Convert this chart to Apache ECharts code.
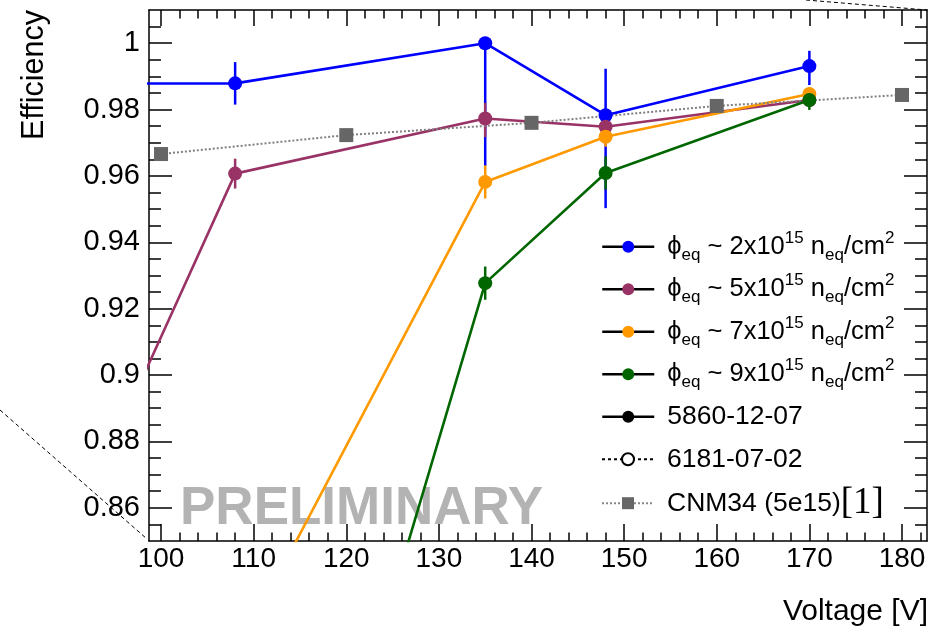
<!DOCTYPE html>
<html>
<head>
<meta charset="utf-8">
<script src="https://cdn.jsdelivr.net/npm/echarts@6/dist/echarts.min.js"></script>
<style>html,body{margin:0;padding:0;background:#fff}#c{width:944px;height:632px}</style>
</head>
<body>
<div id="c"></div>
<script>
// ---------- data ----------
const fluenceLabels = ['2', '5', '7', '9'];
const colors = ['#0000ff', '#993366', '#ff9900', '#006600'];

const voltBlue   = [90, 108, 135, 148, 170];
const effBlue    = [0.9878, 0.9879, 1.000, 0.9783, 0.9931];
const errLoBlue  = [0, 0.0064, 0.037, 0.028, 0.0057];
const errHiBlue  = [0, 0.0064, 0, 0.014, 0.0046];

const voltPurple  = [90, 108, 135, 148, 170];
const effPurple   = [0.850, 0.9607, 0.9773, 0.9748, 0.9829];
const errLoPurple = [0, 0.0045, 0.0056, 0.002, 0.002];
const errHiPurple = [0, 0.0045, 0.0047, 0.002, 0.002];

const voltOrange  = [108, 135, 148, 170];
const effOrange   = [0.815, 0.9582, 0.9718, 0.9847];
const errLoOrange = [0, 0.005, 0.003, 0.002];
const errHiOrange = [0, 0.005, 0.003, 0.002];

const voltGreen  = [108, 135, 148, 170];
const effGreen   = [0.674, 0.9277, 0.9609, 0.9829];
const errLoGreen = [0, 0.005, 0.005, 0.003];
const errHiGreen = [0, 0.005, 0.005, 0.003];

const voltCNM = [100, 120, 140, 160, 180];
const effCNM  = [0.9666, 0.9723, 0.9760, 0.9811, 0.9844];

const xTickLabels = [100, 110, 120, 130, 140, 150, 160, 170, 180];
const yTickLabels = [0.86, 0.88, 0.90, 0.92, 0.94, 0.96, 0.98, 1.00];

const xMin = 98.7, xMax = 182.7, yMin = 0.85, yMax = 1.01;

// minor tick positions (every 2 V and every 0.005)
const xMinor = [];
for (let v = 100; v <= 182; v += 2) xMinor.push(v);
const yMinor = [];
for (let k = 171; k <= 201; k++) yMinor.push(Math.round(k * 5) / 1000);

const FONT = 'Liberation Sans, Arial, Helvetica, sans-serif';

const groups = [
  {v: voltBlue, e: effBlue, lo: errLoBlue, hi: errHiBlue},
  {v: voltPurple, e: effPurple, lo: errLoPurple, hi: errHiPurple},
  {v: voltOrange, e: effOrange, lo: errLoOrange, hi: errHiOrange},
  {v: voltGreen, e: effGreen, lo: errLoGreen, hi: errHiGreen}
];
const groupNames = fluenceLabels.map(f => 'phi' + f);

const series = [];
groups.forEach((g, i) => {
  const col = colors[i];
  series.push({
    name: 'err' + i,
    type: 'custom',
    clip: true,
    data: g.v.map((v, j) => [v, g.e[j], g.lo[j], g.hi[j]]),
    encode: {x: 0, y: 1},
    renderItem: (params, api) => {
      const x = api.value(0), y = api.value(1), lo = api.value(2), hi = api.value(3);
      if (!(lo > 0 || hi > 0)) return null;
      const p1 = api.coord([x, y - lo]);
      const p2 = api.coord([x, y + hi]);
      return {type: 'line', shape: {x1: p1[0], y1: p1[1], x2: p2[0], y2: p2[1]},
              style: {stroke: col, lineWidth: 2.5}};
    },
    silent: true
  });
  series.push({
    name: groupNames[i],
    type: 'line',
    data: g.v.map((v, j) => [v, g.e[j]]),
    symbol: 'circle',
    symbolSize: 14,
    showAllSymbol: true,
    clip: true,
    itemStyle: {color: col},
    lineStyle: {color: col, width: 2.6},
    emphasis: {disabled: true},
    silent: true
  });
});
series.push({
  name: 'CNM34 (5e15)',
  type: 'line',
  data: voltCNM.map((v, j) => [v, effCNM[j]]),
  symbol: 'rect',
  symbolSize: 14,
  itemStyle: {color: '#666666'},
  lineStyle: {color: '#808080', width: 2, type: [2, 2]},
  emphasis: {disabled: true},
  silent: true
});
series.push({name: '5860-12-07', type: 'line', data: [], symbol: 'circle', itemStyle: {color: '#000'}, lineStyle: {color: '#000'}});
series.push({name: '6181-07-02', type: 'line', data: [], symbol: 'emptyCircle', itemStyle: {color: '#000'}, lineStyle: {color: '#000', type: [3, 3]}});

const phiText = f => '{m|ϕ}{sub|eq}{m| ~ ' + f + 'x10}{sup|15}{m| n}{sub|eq}{m|/cm}{sup|2}';
const legendText = {};
fluenceLabels.forEach((f, i) => { legendText[groupNames[i]] = phiText(f); });
legendText['5860-12-07'] = '{t|5860-12-07}';
legendText['6181-07-02'] = '{t|6181-07-02}';
legendText['CNM34 (5e15)'] = '{t|CNM34 (5e15)}{ref|[1]}';

const legendData = groupNames.map((n, i) => ({
  name: n, itemStyle: {color: colors[i]}, lineStyle: {color: '#000', width: 2.5, type: 'solid'}
}));
legendData.push({name: '5860-12-07', itemStyle: {color: '#000'}, lineStyle: {color: '#000', width: 2.5, type: 'solid'}});
legendData.push({name: '6181-07-02', itemStyle: {color: '#000'}, lineStyle: {color: '#000', width: 2, type: [3, 3]}});
legendData.push({name: 'CNM34 (5e15)', itemStyle: {color: '#666666'}, lineStyle: {color: '#888', width: 2, type: [2, 2]}});

const richStyles = {
  m: {fontFamily: FONT, fontSize: 25.5, lineHeight: 34, verticalAlign: 'middle', color: '#000'},
  sub: {fontFamily: FONT, fontSize: 17, lineHeight: 10, verticalAlign: 'bottom', color: '#000'},
  sup: {fontFamily: FONT, fontSize: 17, lineHeight: 30, verticalAlign: 'top', color: '#000'},
  t: {fontFamily: FONT, fontSize: 26.5, lineHeight: 34, verticalAlign: 'middle', color: '#000'},
  ref: {fontFamily: 'Liberation Serif, Times New Roman, serif', fontSize: 37, lineHeight: 34, verticalAlign: 'middle', color: '#000'}
};
const rowCenters = [246.7, 289.2, 331.7, 374.2, 416.7, 459.2, 501.7];
const legends = legendData.map((d, i) => ({
  orient: 'vertical', left: 601, top: rowCenters[i] - 17, padding: 0,
  itemWidth: 52, itemHeight: 15, itemGap: 0,
  selectedMode: false,
  data: [d],
  formatter: name => legendText[name],
  textStyle: {fontFamily: FONT, fontSize: 26, lineHeight: 34, color: '#000', padding: [0, 0, 0, 8], rich: richStyles}
}));

function xAxisDef(pos, ticks, len, major) {
  return {
    type: 'value', min: xMin, max: xMax, position: pos,
    axisLine: {show: major, onZero: false, lineStyle: {color: '#000', width: 1.5}},
    axisTick: {show: true, inside: true, length: len, customValues: ticks, lineStyle: {color: '#000', width: 1.5}},
    axisLabel: pos === 'bottom' && major
      ? {show: true, customValues: xTickLabels, fontSize: 28, color: '#000', fontFamily: FONT, margin: 4}
      : {show: false},
    splitLine: {show: false}, minorTick: {show: false}
  };
}
function yAxisDef(pos, ticks, len, major) {
  return {
    type: 'value', min: yMin, max: yMax, position: pos,
    axisLine: {show: major, onZero: false, lineStyle: {color: '#000', width: 1.5}},
    axisTick: {show: true, inside: true, length: len, customValues: ticks, lineStyle: {color: '#000', width: 1.5}},
    axisLabel: pos === 'left' && major
      ? {show: true, customValues: yTickLabels, fontSize: 29, color: '#000', fontFamily: FONT, margin: 9}
      : {show: false},
    splitLine: {show: false}, minorTick: {show: false}
  };
}

const option = {
  animation: false,
  backgroundColor: '#fff',
  grid: {left: 149, right: 17, top: 10, bottom: 91, containLabel: false, outerBoundsMode: 'none'},
  xAxis: [
    xAxisDef('bottom', xTickLabels, 17, true),
    xAxisDef('bottom', xMinor, 8.5, false),
    xAxisDef('top', xTickLabels, 16, true),
    xAxisDef('top', xMinor, 8.5, false)
  ],
  yAxis: [
    yAxisDef('left', yTickLabels, 23, true),
    yAxisDef('left', yMinor, 12, false),
    yAxisDef('right', yTickLabels, 23, true),
    yAxisDef('right', yMinor, 12, false)
  ],
  legend: legends,
  graphic: [
    {type: 'text', left: 180, top: 483, z: 0, silent: true,
     style: {text: 'PRELIMINARY', fontFamily: FONT, fontWeight: 'bold', fontSize: 53, fill: '#b3b3b3'}},
    {type: 'text', x: 35, y: 10, rotation: Math.PI / 2, silent: true,
     style: {text: 'Efficiency', fontFamily: FONT, fontSize: 30.5, fill: '#000', align: 'right', verticalAlign: 'middle'}},
    {type: 'text', x: 928, y: 612, silent: true,
     style: {text: 'Voltage [V]', fontFamily: FONT, fontSize: 30, fill: '#000', align: 'right', verticalAlign: 'middle'}},
    {type: 'line', silent: true, shape: {x1: 806, y1: 0, x2: 927, y2: 10},
     style: {stroke: '#000', lineWidth: 1, lineDash: [4, 3]}},
    {type: 'line', silent: true, shape: {x1: 0, y1: 410, x2: 147, y2: 539},
     style: {stroke: '#000', lineWidth: 1, lineDash: [4, 3]}}
  ],
  series: series
};

const chart = echarts.init(document.getElementById('c'), null, {renderer: 'canvas'});
chart.setOption(option);
</script>
</body>
</html>
